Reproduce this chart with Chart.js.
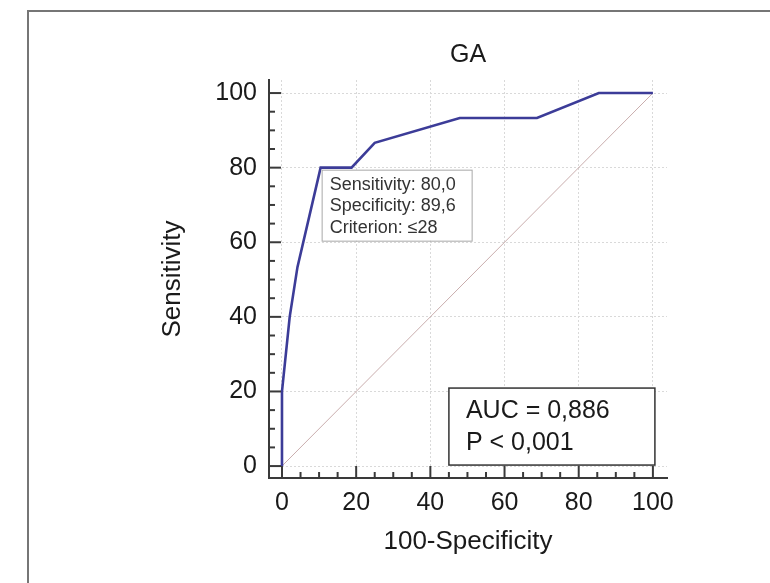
<!DOCTYPE html>
<html>
<head>
<meta charset="utf-8">
<title>GA ROC</title>
<script src="https://cdn.jsdelivr.net/npm/chart.js@4.4.1/dist/chart.umd.min.js"></script>
<style>
  html, body { margin: 0; padding: 0; background: #fff; }
  #wrap { position: relative; width: 770px; height: 583px; overflow: hidden; }
  #frame {
    position: absolute; left: 27px; top: 10px; width: 800px; height: 620px;
    border-left: 2px solid #767676; border-top: 2px solid #767676;
  }
  #rocChart { position: absolute; left: 0; top: 0; }
</style>
</head>
<body>
<div id="wrap">
  <div id="frame"></div>
  <canvas id="rocChart" width="770" height="583"></canvas>
</div>
<script>
// ROC curve for GA
const fpr = [0, 0, 2.08, 4.17, 10.42, 18.75, 25.0, 47.92, 68.75, 85.42, 100];
const sensitivity = [0, 20, 40, 53.33, 80, 80, 86.67, 93.33, 93.33, 100, 100];
const diagX = [0, 100];
const diagY = [0, 100];
const xTicks = [0, 20, 40, 60, 80, 100];
const yTicks = [0, 20, 40, 60, 80, 100];
const minorStep = 5;

// cut-off point that gets the info box
const cutoff = { x: 10.42, y: 80 };
const cutoffLines = ['Sensitivity: 80,0', 'Specificity: 89,6', 'Criterion: \u226428'];
const aucLines = ['AUC = 0,886', 'P < 0,001'];

const FONT = "'Liberation Sans', Arial, sans-serif";
const AXIS_COLOR = '#3a3a3a';

Chart.defaults.font.family = FONT;
Chart.defaults.color = '#1a1a1a';

// tick marks point inward; major every 20, minor every 5
const tickMarks = {
  id: 'tickMarks',
  afterDraw(chart) {
    const ctx = chart.ctx;
    const xs = chart.scales.x;
    const ys = chart.scales.y;
    const area = chart.chartArea;
    ctx.save();
    ctx.strokeStyle = AXIS_COLOR;
    ctx.lineWidth = 2;
    for (let v = 0; v <= 100; v += minorStep) {
      const len = v % 20 === 0 ? 12 : 6;
      const px = xs.getPixelForValue(v);
      ctx.beginPath();
      ctx.moveTo(px, area.bottom);
      ctx.lineTo(px, area.bottom - len);
      ctx.stroke();
      const py = ys.getPixelForValue(v);
      ctx.beginPath();
      ctx.moveTo(area.left, py);
      ctx.lineTo(area.left + len, py);
      ctx.stroke();
    }
    ctx.restore();
  }
};

// info boxes: criterion at the cut-off point and AUC in the lower right
const infoBoxes = {
  id: 'infoBoxes',
  afterDatasetsDraw(chart) {
    const ctx = chart.ctx;
    const xs = chart.scales.x;
    const ys = chart.scales.y;
    ctx.save();

    // criterion box hangs from the cut-off point
    let left = xs.getPixelForValue(cutoff.x) + 1;
    let top = ys.getPixelForValue(cutoff.y) + 2;
    ctx.fillStyle = '#fff';
    ctx.fillRect(left, top, 150, 71);
    ctx.strokeStyle = '#a8a8a8';
    ctx.lineWidth = 1;
    ctx.strokeRect(left + 0.5, top + 0.5, 150, 71);
    ctx.fillStyle = '#333';
    ctx.font = '18px ' + FONT;
    ctx.textBaseline = 'middle';
    ctx.textAlign = 'left';
    cutoffLines.forEach((t, i) => ctx.fillText(t, left + 8, top + 15 + i * 21.5));

    // AUC box sits in the corner at (100, 0)
    const right = xs.getPixelForValue(100) + 2;
    const bottom = ys.getPixelForValue(0) - 1;
    left = right - 206;
    top = bottom - 77;
    ctx.fillStyle = '#fff';
    ctx.fillRect(left, top, 206, 77);
    ctx.strokeStyle = '#333';
    ctx.lineWidth = 1.5;
    ctx.strokeRect(left, top, 206, 77);
    ctx.fillStyle = '#1a1a1a';
    ctx.font = '25px ' + FONT;
    aucLines.forEach((t, i) => ctx.fillText(t, left + 17, top + 23 + i * 32));

    ctx.restore();
  }
};

const axisCommon = {
  type: 'linear',
  grid: { color: '#d9d9d9', lineWidth: 1, drawTicks: false },
  border: { display: true, color: AXIS_COLOR, width: 2, dash: [2, 2] },
};

new Chart(document.getElementById('rocChart'), {
  type: 'scatter',
  data: {
    datasets: [
      {
        label: 'ROC',
        data: fpr.map((x, i) => ({ x: x, y: sensitivity[i] })),
        showLine: true,
        borderColor: '#3c3c98',
        borderWidth: 2.6,
        pointRadius: 0,
        tension: 0,
        order: 1
      },
      {
        label: 'Reference',
        data: diagX.map((x, i) => ({ x: x, y: diagY[i] })),
        showLine: true,
        borderColor: '#c9adad',
        borderWidth: 1,
        pointRadius: 0,
        order: 2
      }
    ]
  },
  options: {
    responsive: false,
    animation: false,
    devicePixelRatio: 1,
    layout: { padding: { left: 0, right: 103, top: 40, bottom: 0 } },
    plugins: {
      legend: { display: false },
      tooltip: { enabled: false },
      title: {
        display: true,
        text: 'GA',
        fullSize: false,
        color: '#1a1a1a',
        font: { size: 25, weight: 'normal' },
        padding: { top: 0, bottom: 10 }
      }
    },
    scales: {
      x: {
        ...axisCommon,
        min: -3.5,
        max: 103.8,
        afterBuildTicks: s => { s.ticks = xTicks.map(v => ({ value: v })); },
        afterFit: s => { s.height = 105; },
        ticks: { font: { size: 25 }, padding: 10, color: '#1a1a1a' },
        title: {
          display: true,
          text: '100-Specificity',
          color: '#1a1a1a',
          font: { size: 26 },
          padding: { top: 0, bottom: 26 }
        }
      },
      y: {
        ...axisCommon,
        min: -3.2,
        max: 103.5,
        afterBuildTicks: s => { s.ticks = yTicks.map(v => ({ value: v })); },
        afterFit: s => { s.width = 269; },
        ticks: { font: { size: 25 }, padding: 12, color: '#1a1a1a' },
        title: {
          display: true,
          text: 'Sensitivity',
          color: '#1a1a1a',
          font: { size: 26 },
          padding: { top: 157, bottom: 0 }
        }
      }
    }
  },
  plugins: [infoBoxes, tickMarks]
});
</script>
</body>
</html>
